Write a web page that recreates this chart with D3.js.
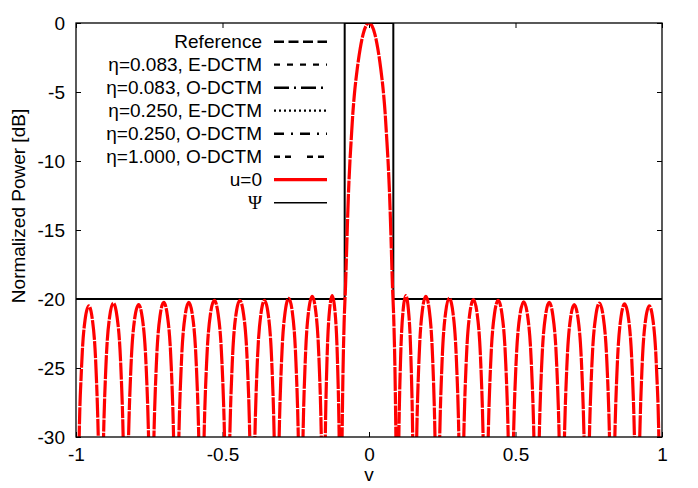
<!DOCTYPE html>
<html><head><meta charset="utf-8">
<script src="https://cdn.jsdelivr.net/npm/d3@7"></script>
<style>
body{margin:0;background:#fff;}
svg text{font-family:"Liberation Sans",Arial,Helvetica,sans-serif;fill:#000;}
</style></head>
<body><svg id="c" width="698" height="488"></svg>
<script>
// ---- data ----
const xTicks = [-1, -0.5, 0, 0.5, 1];
const xTickLabels = ["-1", "-0.5", "0", "0.5", "1"];
const yTicks = [0, -5, -10, -15, -20, -25, -30];
const yTickLabels = ["0", "-5", "-10", "-15", "-20", "-25", "-30"];
const legendLabels = ["Reference", "η=0.083, E-DCTM", "η=0.083, O-DCTM", "η=0.250, E-DCTM", "η=0.250, O-DCTM", "η=1.000, O-DCTM", "u=0", "Ψ"];

// Ψ mask
const psiV  = [-1, -0.083, -0.083, 0.083, 0.083, 1];
const psiDb = [-20, -20, 0, 0, -20, -20];

// u=0 pattern
const uV = [
 -1.000,-0.996,
 -0.9897,-0.9814,-0.969,-0.9565,-0.944,-0.9316,-0.9233,-0.915,
 -0.9065,-0.898,-0.8853,-0.8725,-0.8598,-0.847,-0.8385,-0.830,
 -0.8213,-0.8126,-0.7996,-0.7865,-0.7735,-0.7604,-0.7517,-0.743,
 -0.7345,-0.726,-0.7133,-0.7005,-0.6878,-0.675,-0.6665,-0.658,
 -0.6494,-0.6408,-0.6279,-0.615,-0.6021,-0.5892,-0.5806,-0.572,
 -0.5632,-0.5544,-0.5412,-0.528,-0.5148,-0.5016,-0.4928,-0.484,
 -0.4754,-0.4668,-0.4539,-0.441,-0.4281,-0.4152,-0.4066,-0.398,
 -0.3897,-0.3814,-0.369,-0.3565,-0.344,-0.3316,-0.3233,-0.315,
 -0.3068,-0.2986,-0.2863,-0.274,-0.2617,-0.2494,-0.2412,-0.233,
 -0.2252,-0.2174,-0.2057,-0.194,-0.1823,-0.1706,-0.1628,-0.155,
 -0.1491,-0.1432,-0.1344,-0.1255,-0.1167,-0.1078,-0.1019,-0.096,
 -0.094,-0.090,-0.085,-0.080,-0.075,-0.070,-0.065,-0.060,-0.055,-0.050,-0.040,-0.030,-0.020,-0.010,
 0,
 0.010,0.020,0.030,0.040,0.050,0.055,0.060,0.065,0.070,0.075,0.080,0.085,0.090,0.094,
 0.096,0.1019,0.1078,0.1167,0.1255,0.1344,0.1432,0.1491,
 0.155,0.1628,0.1706,0.1823,0.194,0.2057,0.2174,0.2252,
 0.233,0.2412,0.2494,0.2617,0.274,0.2863,0.2986,0.3068,
 0.315,0.3233,0.3316,0.344,0.3565,0.369,0.3814,0.3897,
 0.398,0.4066,0.4152,0.4281,0.441,0.4539,0.4668,0.4754,
 0.484,0.4928,0.5016,0.5148,0.528,0.5412,0.5544,0.5632,
 0.572,0.5806,0.5892,0.6021,0.615,0.6279,0.6408,0.6494,
 0.658,0.6665,0.675,0.6878,0.7005,0.7133,0.726,0.7345,
 0.743,0.7517,0.7604,0.7735,0.7865,0.7996,0.8126,0.8213,
 0.830,0.8385,0.847,0.8598,0.8725,0.8853,0.898,0.9065,
 0.915,0.9233,0.9316,0.944,0.9565,0.969,0.9814,0.9897,
 0.996,1.000
];
const uDb = [
 -38,-42,
 -30.7,-25.1,-21.5,-20.5,-21.5,-25.1,-30.7,-42,
 -30.5,-24.9,-21.3,-20.3,-21.3,-24.9,-30.5,-42,
 -30.6,-25.0,-21.4,-20.4,-21.4,-25.0,-30.6,-42,
 -30.45,-24.85,-21.25,-20.25,-21.25,-24.85,-30.45,-42,
 -30.45,-24.85,-21.25,-20.25,-21.25,-24.85,-30.45,-42,
 -30.3,-24.7,-21.1,-20.1,-21.1,-24.7,-30.3,-42,
 -30.3,-24.7,-21.1,-20.1,-21.1,-24.7,-30.3,-42,
 -30.3,-24.7,-21.1,-20.1,-21.1,-24.7,-30.3,-42,
 -30.15,-24.55,-20.95,-19.95,-20.95,-24.55,-30.15,-42,
 -30.0,-24.4,-20.8,-19.8,-20.8,-24.4,-30.0,-42,
 -29.95,-24.35,-20.75,-19.75,-20.75,-24.35,-29.95,-42,
 -35,-27,-21.8,-19,-15.5,-12.3,-10,-8.2,-6.5,-5.2,-3.3,-1.85,-0.8,-0.2,
 0,
 -0.2,-0.8,-1.85,-3.3,-5.2,-6.5,-8.2,-10,-12.3,-15.5,-19,-21.8,-27,-35,
 -42,-29.95,-24.35,-20.75,-19.75,-20.75,-24.35,-29.95,
 -42,-30.0,-24.4,-20.8,-19.8,-20.8,-24.4,-30.0,
 -42,-30.15,-24.55,-20.95,-19.95,-20.95,-24.55,-30.15,
 -42,-30.25,-24.65,-21.05,-20.05,-21.05,-24.65,-30.25,
 -42,-30.3,-24.7,-21.1,-20.1,-21.1,-24.7,-30.3,
 -42,-30.4,-24.8,-21.2,-20.2,-21.2,-24.8,-30.4,
 -42,-30.45,-24.85,-21.25,-20.25,-21.25,-24.85,-30.45,
 -42,-30.6,-25.0,-21.4,-20.4,-21.4,-25.0,-30.6,
 -42,-30.5,-24.9,-21.3,-20.3,-21.3,-24.9,-30.5,
 -42,-30.55,-24.95,-21.35,-20.35,-21.35,-24.95,-30.55,
 -42,-30.7,-25.1,-21.5,-20.5,-21.5,-25.1,-30.7,
 -42,-38
];

// ---- layout ----
const W = 698, H = 488;
const m = {l:76, r:662, t:23, b:437};
const svg = d3.select("#c");
const x = d3.scaleLinear().domain([-1, 1]).range([m.l, m.r]);
const y = d3.scaleLinear().domain([-30, 0]).range([m.b, m.t]);
const FS = 19;

svg.append("defs").append("clipPath").attr("id","clip")
  .append("rect").attr("x",m.l).attr("y",m.t).attr("width",m.r-m.l).attr("height",m.b-m.t);

// axes (inward ticks, mirrored)
const fmtX = d => xTickLabels[xTicks.indexOf(d)];
const fmtY = d => yTickLabels[yTicks.indexOf(d)];
const gx = svg.append("g").attr("transform",`translate(0,${m.b})`)
  .call(d3.axisBottom(x).tickValues(xTicks).tickFormat(fmtX).tickSize(-5).tickPadding(11));
const gxt = svg.append("g").attr("transform",`translate(0,${m.t})`)
  .call(d3.axisTop(x).tickValues(xTicks).tickFormat("").tickSize(-5));
const gy = svg.append("g").attr("transform",`translate(${m.l},0)`)
  .call(d3.axisLeft(y).tickValues(yTicks).tickFormat(fmtY).tickSize(-5).tickPadding(11));
const gyr = svg.append("g").attr("transform",`translate(${m.r},0)`)
  .call(d3.axisRight(y).tickValues(yTicks).tickFormat("").tickSize(-5));
[gx,gxt,gy,gyr].forEach(g=>{
  g.select(".domain").remove();
  g.selectAll("line").attr("stroke","#000").attr("stroke-width",1);
  g.selectAll("text").style("font-size",FS+"px").attr("fill","#000");
});

// curves
const pts = (vs, ds) => vs.map((v,i)=>[v, ds[i]]);
const lineSmooth = d3.line().x(d=>x(d[0])).y(d=>y(d[1])).curve(d3.curveMonotoneX);
const lineStep = d3.line().x(d=>x(d[0])).y(d=>y(d[1]));

const plot = svg.append("g").attr("clip-path","url(#clip)");
plot.append("path").attr("d", lineStep(pts(psiV, psiDb)))
  .attr("fill","none").attr("stroke","#000").attr("stroke-width",2);
plot.append("path").attr("d", lineSmooth(pts(uV, uDb)))
  .attr("fill","none").attr("stroke","#f00").attr("stroke-width",3.2)
  .attr("stroke-dasharray","17 1.2 24 1.2 12 1.2 20 1.2");

// border
svg.append("rect").attr("x",m.l).attr("y",m.t).attr("width",m.r-m.l).attr("height",m.b-m.t)
  .attr("fill","none").attr("stroke","#000").attr("stroke-width",1.3);

// legend
const legStyles = [
  {c:"#000", w:2.4, d:"10 4.5"},
  {c:"#000", w:2.2, d:"6 7"},
  {c:"#000", w:2.4, d:"15 5 2 5"},
  {c:"#000", w:2.2, d:"2 3"},
  {c:"#000", w:2.4, d:"10 7 2 7"},
  {c:"#000", w:2.4, d:"6 5 6 16"},
  {c:"#f00", w:3.2, d:null},
  {c:"#000", w:1.6, d:null}
];
const leg = svg.append("g");
legendLabels.forEach((lab,i)=>{
  const cy = 41.7 + 23*i;
  const t = leg.append("text").attr("x",262).attr("y",cy).attr("dy","0.35em")
    .attr("text-anchor","end").style("font-size",FS+"px").text(lab);
  if (lab === "Ψ") t.style("font-family",'"Liberation Serif","DejaVu Serif",serif');
  const s = legStyles[i];
  const l = leg.append("line").attr("x1",274).attr("x2",327).attr("y1",cy).attr("y2",cy)
    .attr("stroke",s.c).attr("stroke-width",s.w);
  if (s.d) l.attr("stroke-dasharray",s.d);
});

// axis titles
svg.append("text").attr("x",(m.l+m.r)/2).attr("y",474).attr("dy","0.35em")
  .attr("text-anchor","middle").style("font-size",FS+"px").text("v");
svg.append("text").attr("transform",`translate(18,206) rotate(-90)`)
  .attr("dy","0.35em").attr("text-anchor","middle").style("font-size",FS+"px")
  .text("Normalized Power [dB]");
</script></body></html>
